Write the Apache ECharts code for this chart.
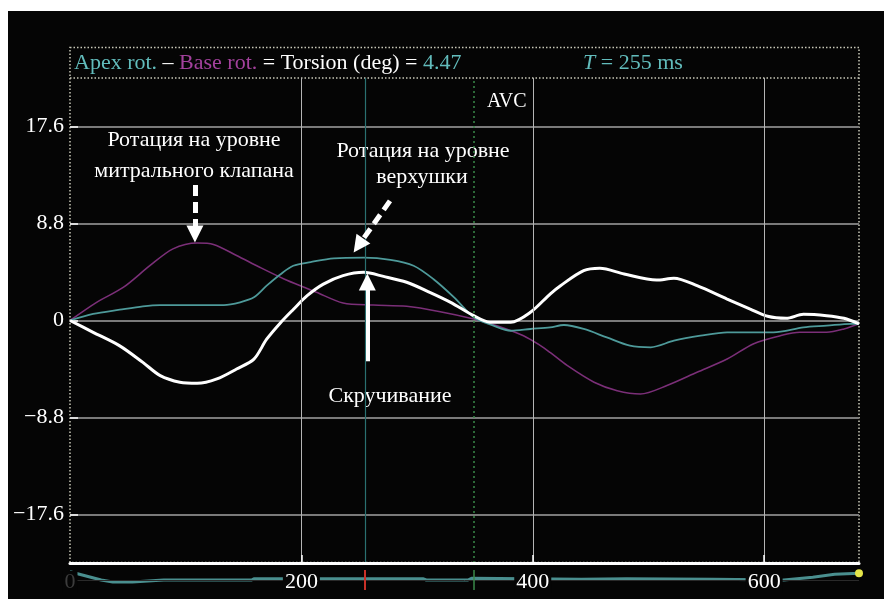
<!DOCTYPE html>
<html>
<head>
<meta charset="utf-8">
<script src="https://cdn.jsdelivr.net/npm/echarts@6/dist/echarts.min.js"></script>
<style>
    html, body { margin: 0; padding: 0; background: #fff; }
    #bg { position: absolute; left: 8px; top: 11px; width: 876px; height: 588px; background: #050505; }
    #chart { position: absolute; left: 0; top: 0; width: 884px; height: 599px; }
</style>
</head>
<body>
<div id="bg"></div>
<div id="chart"></div>
<script>
// время, мс / угол, град
const torsionT = [0, 20, 43, 63, 78, 95, 110, 127, 144, 159, 170, 182, 193, 205, 219, 236, 254, 271, 291, 311, 329, 349, 363, 381, 398, 415, 424, 444, 458, 479, 507, 522, 542, 568, 588, 603, 619, 634, 654, 669, 682];
const torsionDeg = [0, -1.07, -2.3, -3.8, -5.0, -5.6, -5.7, -5.3, -4.4, -3.5, -1.7, -0.2, 1.0, 2.25, 3.3, 4.07, 4.37, 4.0, 3.47, 2.56, 1.65, 0.44, -0.16, -0.16, 0.74, 2.4, 3.16, 4.52, 4.74, 4.22, 3.67, 3.83, 3.16, 1.95, 1.04, 0.38, 0.2, 0.56, 0.44, 0.2, -0.3];

const apexT = [0, 20, 43, 63, 78, 107, 133, 147, 159, 170, 182, 193, 208, 228, 254, 277, 297, 314, 332, 349, 366, 381, 398, 415, 427, 444, 464, 484, 502, 522, 545, 568, 591, 608, 634, 654, 675, 682];
const apexDeg = [0, 0.6, 0.98, 1.29, 1.4, 1.4, 1.4, 1.65, 2.1, 3.16, 4.2, 4.97, 5.3, 5.64, 5.7, 5.5, 4.97, 3.77, 2.1, 0.3, -0.47, -0.93, -0.77, -0.62, -0.41, -0.77, -1.53, -2.28, -2.43, -1.83, -1.38, -1.07, -1.07, -1.07, -0.62, -0.47, -0.3, -0.3];

const baseT = [0, 23, 46, 69, 89, 110, 124, 144, 164, 185, 206, 213, 236, 262, 291, 320, 349, 369, 392, 407, 415, 430, 453, 473, 493, 516, 542, 568, 591, 614, 631, 654, 669, 682];
const baseDeg = [0, 1.65, 3.0, 4.97, 6.5, 7.03, 6.9, 5.9, 4.83, 3.77, 2.86, 2.56, 1.59, 1.4, 1.29, 0.8, 0.14, -0.47, -1.38, -2.3, -2.9, -4.1, -5.6, -6.37, -6.67, -5.9, -4.7, -3.5, -2.1, -1.38, -1.07, -1.07, -0.77, -0.3];

// нижняя полоса (обзор)
const stripT = [0, 27, 37, 54, 81, 157, 159, 305, 308, 344, 347, 442, 481, 556, 617, 642, 661, 682];
const stripV = [18.3, 10, 8, 8, 10, 10, 11.3, 11.3, 10, 10, 11.7, 10.7, 11.3, 10.7, 10, 12.7, 15.7, 16.7];

const yTicks = [-17.6, -8.8, 0, 8.8, 17.6];
const xTicks = [0, 200, 400, 600];
const markT = 255;   // T = 255 ms
const avcT = 349;    // AVC

const zip = (a, b) => a.map((v, i) => [v, b[i]]);
const serif = 'Liberation Serif';
const teal = '#4e9a9a';
const purple = '#7b2f78';
const fs = 22;

const chart = echarts.init(document.getElementById('chart'));
chart.setOption({
    animation: false,
    grid: [
        { left: 70, right: 25, top: 78, bottom: 36 },
        { left: 70, right: 25, top: 570, height: 20 }
    ],
    xAxis: [
        {
            gridIndex: 0, type: 'value', min: 0, max: 682, z: 10,
            axisLine: { show: true, onZero: false, lineStyle: { color: '#fff', width: 3 } },
            axisTick: { show: true, inside: true, length: 8, customValues: [200, 400, 600], lineStyle: { color: '#fff', width: 1.5 } },
            splitLine: { show: true, lineStyle: { color: '#b5b5b5', width: 1 } },
            axisLabel: {
                customValues: xTicks, margin: 8, color: '#fff',
                fontFamily: serif, fontSize: fs,
                backgroundColor: '#050505', padding: [0, 2],
                formatter: v => v === 0 ? '{g|0}' : String(v),
                rich: { g: { color: '#3c3c3c', fontFamily: serif, fontSize: fs } }
            }
        },
        { gridIndex: 1, type: 'value', min: 0, max: 682, show: false }
    ],
    yAxis: [
        {
            gridIndex: 0, type: 'value', min: -22, max: 22,
            axisLine: { show: false },
            axisTick: { show: true, inside: true, length: 8, customValues: yTicks, lineStyle: { color: '#ddd', width: 2 } },
            splitLine: { show: true, lineStyle: { color: '#7a7a7a', width: 2 } },
            axisLabel: {
                customValues: yTicks, margin: 6, color: '#fff',
                fontFamily: serif, fontSize: fs,
                formatter: v => v < 0 ? '\u2212' + Math.abs(v) : String(v)
            }
        },
        { gridIndex: 1, type: 'value', min: 0, max: 20, show: false }
    ],
    series: [
        {
            name: 'Base rot.', type: 'line', data: zip(baseT, baseDeg),
            smooth: 0.3, symbol: 'none',
            lineStyle: { color: purple, width: 1.6 }
        },
        {
            name: 'Apex rot.', type: 'line', data: zip(apexT, apexDeg),
            smooth: 0.3, symbol: 'none',
            lineStyle: { color: teal, width: 1.8 },
            markLine: {
                silent: true, symbol: 'none', label: { show: false },
                lineStyle: { color: '#2a7070', width: 1.2, type: 'solid', opacity: 1 },
                data: [
                    { xAxis: markT, lineStyle: { color: '#2a7070', type: 'solid' } },
                    { xAxis: avcT, lineStyle: { color: '#3a8a4a', width: 1.5, type: [2, 3] } }
                ]
            }
        },
        {
            name: 'Torsion', type: 'line', data: zip(torsionT, torsionDeg),
            smooth: 0.3, symbol: 'none',
            lineStyle: { color: '#fff', width: 3 },
            markLine: {
                silent: true, symbol: ['none', 'triangle'], symbolSize: 17,
                label: { show: false },
                lineStyle: { color: '#fff', width: 5, type: [11, 6] },
                data: [
                    [{ coord: [108, 12.3] }, { coord: [108, 7.85] }],
                    [{ coord: [276.6, 10.85] }, { coord: [249.4, 6.8] }],
                    [{ coord: [257, -3.7], lineStyle: { type: 'solid', width: 4 } }, { coord: [257, 3.5] }]
                ]
            }
        },
        {
            name: 'strip', type: 'line', xAxisIndex: 1, yAxisIndex: 1,
            data: zip(stripT, stripV), symbol: 'none',
            lineStyle: { color: '#4a8f8f', width: 3 },
            markLine: {
                silent: true, symbol: 'none', label: { show: false },
                data: [
                    { yAxis: 10, lineStyle: { color: '#2a2a2a', width: 1, type: 'solid' } },
                    { xAxis: markT, lineStyle: { color: '#c83028', width: 2, type: 'solid' } },
                    { xAxis: avcT, lineStyle: { color: '#3a8a4a', width: 1.5, type: 'solid' } }
                ]
            },
            markPoint: {
                silent: true, symbol: 'circle', symbolSize: 8,
                itemStyle: { color: '#e6e64a' }, label: { show: false },
                data: [{ coord: [stripT[stripT.length - 1], stripV[stripV.length - 1]] }]
            }
        }
    ],
    graphic: [
        // рамка и шапка
        { type: 'rect', shape: { x: 70, y: 47.5, width: 789, height: 515 }, style: { fill: null, stroke: '#c8c8b8', lineWidth: 1.5, lineDash: [1.5, 2] } },
        { type: 'line', shape: { x1: 70, y1: 78, x2: 859, y2: 78 }, style: { stroke: '#c8c8b8', lineWidth: 1.5, lineDash: [1.5, 2] } },
        {
            type: 'text', x: 74, y: 63,
            style: {
                text: '{a|Apex rot.}{w| \u2013 }{b|Base rot.}{w| = Torsion (deg) = }{a|4.47}',
                verticalAlign: 'middle', fontFamily: serif, fontSize: fs,
                rich: {
                    a: { fill: '#62bcbc', fontFamily: serif, fontSize: fs },
                    b: { fill: '#a3419c', fontFamily: serif, fontSize: fs },
                    w: { fill: '#fff', fontFamily: serif, fontSize: fs }
                }
            }
        },
        {
            type: 'text', x: 583, y: 63,
            style: {
                text: '{i|T}{a| = 255 ms}',
                verticalAlign: 'middle', fontFamily: serif, fontSize: fs,
                rich: {
                    i: { fill: '#62bcbc', fontFamily: serif, fontSize: fs, fontStyle: 'italic' },
                    a: { fill: '#62bcbc', fontFamily: serif, fontSize: fs }
                }
            }
        },
        { type: 'text', x: 487, y: 102, style: { text: 'AVC', fill: '#fff', fontFamily: serif, fontSize: 20, verticalAlign: 'middle' } },
        // подписи
        { type: 'text', x: 194, y: 140, style: { text: 'Ротация на уровне', fill: '#fff', fontFamily: serif, fontSize: fs, align: 'center', verticalAlign: 'middle' } },
        { type: 'text', x: 194, y: 171, style: { text: 'митрального клапана', fill: '#fff', fontFamily: serif, fontSize: fs, align: 'center', verticalAlign: 'middle' } },
        { type: 'text', x: 423, y: 151, style: { text: 'Ротация на уровне', fill: '#fff', fontFamily: serif, fontSize: fs, align: 'center', verticalAlign: 'middle' } },
        { type: 'text', x: 422, y: 177, style: { text: 'верхушки', fill: '#fff', fontFamily: serif, fontSize: fs, align: 'center', verticalAlign: 'middle' } },
        { type: 'text', x: 390, y: 396, style: { text: 'Скручивание', fill: '#fff', fontFamily: serif, fontSize: fs, align: 'center', verticalAlign: 'middle' } }
    ]
});
</script>
</body>
</html>
